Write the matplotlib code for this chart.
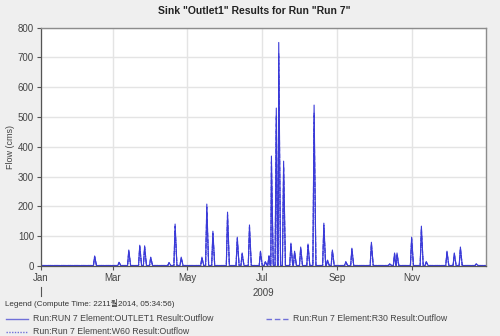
import matplotlib
matplotlib.use("Agg")
import matplotlib.pyplot as plt
import matplotlib.dates as mdates
from matplotlib.lines import Line2D
import pandas as pd
import numpy as np

plt.rcParams['font.family'] = ['Liberation Sans', 'Noto Sans CJK KR', 'DejaVu Sans']

# Storm peaks (date, peak outflow in cms) for the three elements
peak_dates = ["2009-02-14", "2009-03-06", "2009-03-14", "2009-03-23", "2009-03-27",
              "2009-04-01", "2009-04-16", "2009-04-21", "2009-04-26", "2009-05-13",
              "2009-05-17", "2009-05-22", "2009-06-03", "2009-06-11", "2009-06-15",
              "2009-06-21", "2009-06-30", "2009-07-04", "2009-07-07", "2009-07-09",
              "2009-07-13", "2009-07-15", "2009-07-19", "2009-07-25", "2009-07-28",
              "2009-08-02", "2009-08-08", "2009-08-13", "2009-08-21", "2009-08-24",
              "2009-08-28", "2009-09-08", "2009-09-13", "2009-09-29", "2009-10-14",
              "2009-10-18", "2009-10-20", "2009-11-01", "2009-11-09", "2009-11-13",
              "2009-11-30", "2009-12-06", "2009-12-11", "2009-12-24"]
outlet1_peaks = [34, 13, 54, 70, 68, 30, 12, 141, 30, 30,
                 208, 117, 181, 97, 44, 138, 50, 15, 35, 369,
                 530, 750, 352, 77, 50, 64, 74, 540, 144, 20,
                 54, 15, 60, 80, 8, 44, 44, 97, 134, 15,
                 50, 44, 64, 8]
r30_peaks = [32, 12, 51, 66, 64, 28, 11, 134, 28, 28,
             198, 110, 172, 92, 41, 131, 47, 14, 33, 350,
             505, 712, 334, 73, 47, 60, 70, 513, 137, 19,
             51, 14, 57, 76, 7, 41, 41, 92, 127, 14,
             47, 41, 60, 7]
w60_peaks = [29, 11, 46, 60, 58, 25, 10, 120, 25, 25,
             178, 99, 154, 82, 37, 117, 42, 12, 30, 314,
             452, 640, 300, 65, 42, 54, 63, 460, 122, 17,
             46, 12, 51, 68, 6, 37, 37, 82, 114, 12,
             42, 37, 54, 6]
base_flow = 2.0
month_ticks = ["2009-01-01", "2009-03-01", "2009-05-01",
               "2009-07-01", "2009-09-01", "2009-11-01"]

year_start = pd.Timestamp("2009-01-01")
year_end = pd.Timestamp("2010-01-01")


def hydrograph(dates, peaks):
    pts = [(year_start, base_flow), (year_end, base_flow)]
    for d, p in zip(pd.to_datetime(dates), peaks):
        pts.append((d - pd.Timedelta(days=1), base_flow))
        pts.append((d, p))
        pts.append((d + pd.Timedelta(hours=36), base_flow))
    pts.sort(key=lambda t: t[0])
    t, q = zip(*pts)
    return list(t), list(q)


fig = plt.figure(figsize=(5.0, 3.36), dpi=100, facecolor="#efefef")
ax = fig.add_axes([0.082, 0.208, 0.890, 0.710])
ax.set_facecolor("white")

line_color = "#3a3ad8"
t1, q1 = hydrograph(peak_dates, outlet1_peaks)
t2, q2 = hydrograph(peak_dates, r30_peaks)
t3, q3 = hydrograph(peak_dates, w60_peaks)
ax.plot(t1, q1, color=line_color, lw=0.8, ls="-")
ax.plot(t2, q2, color=line_color, lw=0.8, ls=(0, (4, 2)))
ax.plot(t3, q3, color=line_color, lw=0.8, ls=(0, (1, 1)))

ax.set_xlim(year_start, year_end)
ax.set_ylim(0, 800)
ax.set_yticks(np.arange(0, 801, 100))
ax.set_xticks(pd.to_datetime(month_ticks))
ax.xaxis.set_major_formatter(mdates.DateFormatter("%b"))
ax.grid(True, color="#e4e4e4", lw=1.0)
ax.set_axisbelow(True)

for side in ["left", "bottom"]:
    ax.spines[side].set_color("#555555")
    ax.spines[side].set_linewidth(0.9)
for side in ["top", "right"]:
    ax.spines[side].set_color("#8c8c8c")
    ax.spines[side].set_linewidth(1.0)

ax.tick_params(axis="both", colors="#555555", labelcolor="#444444",
               labelsize=7, length=3, width=0.8, pad=2)
ax.set_ylabel("Flow (cms)", fontsize=6.5, color="#444444", labelpad=2)

fig.text(0.508, 0.968, 'Sink "Outlet1" Results for Run "Run 7"',
         ha="center", va="center", fontsize=7.5, fontweight="bold", color="#222222")

# Year marker below the month labels
fig.add_artist(Line2D([0.082, 0.082], [0.118, 0.145], color="#555555", lw=0.8,
                      transform=fig.transFigure))
fig.text(0.527, 0.128, "2009", ha="center", va="center", fontsize=7, color="#444444")

# Legend block
fig.text(0.010, 0.097, "Legend (Compute Time: 2211월2014, 05:34:56)",
         ha="left", va="center", fontsize=5.8, color="#333333")
legend_rows = [
    (0.012, 0.052, "-", "Run:RUN 7 Element:OUTLET1 Result:Outflow"),
    (0.532, 0.052, (0, (4, 2)), "Run:Run 7 Element:R30 Result:Outflow"),
    (0.012, 0.012, (0, (1, 1)), "Run:Run 7 Element:W60 Result:Outflow"),
]
for x0, y0, ls, label in legend_rows:
    fig.add_artist(Line2D([x0, x0 + 0.044], [y0, y0], color="#7070d8", lw=1.0,
                          ls=ls, transform=fig.transFigure))
    fig.text(x0 + 0.054, y0, label, ha="left", va="center",
             fontsize=6.3, color="#444444")

fig.savefig("out.png", dpi=100, facecolor=fig.get_facecolor())
